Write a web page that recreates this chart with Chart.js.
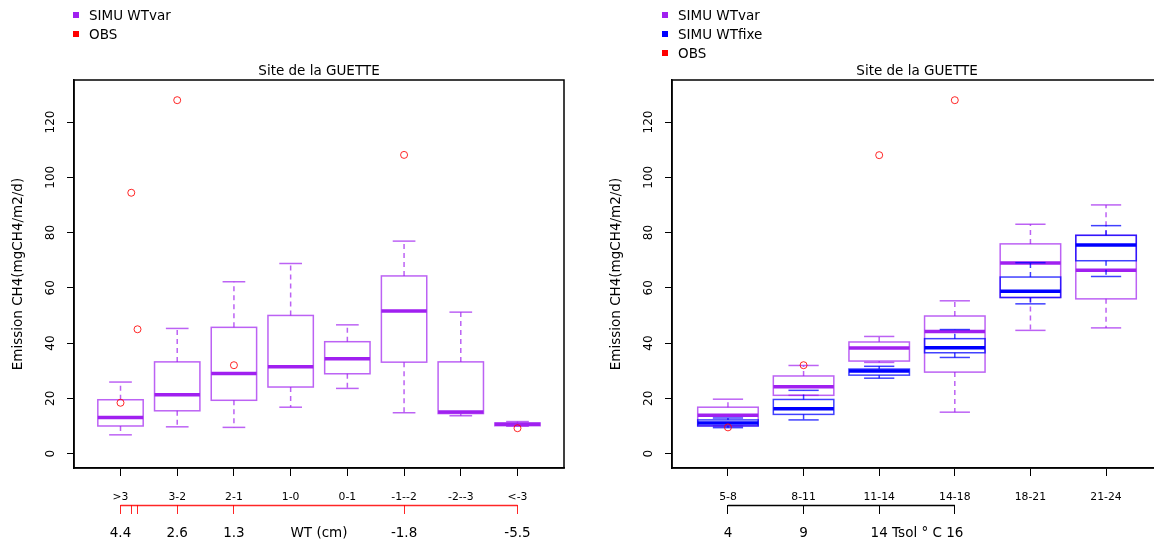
<!DOCTYPE html>
<html>
<head>
<meta charset="utf-8">
<script src="https://cdn.jsdelivr.net/npm/chart.js@4"></script>
<style>
html, body { margin: 0; padding: 0; overflow: hidden; background: #fff; width: 1154px; height: 542px; }
.panel { position: absolute; top: 0; width: 598px; height: 542px; }
.legend { position: absolute; top: 6px; font: 13.5px "DejaVu Sans"; color: #000; z-index: 2; }
.legend div { height: 19px; line-height: 19px; white-space: nowrap; }
.legend span { display: inline-block; width: 6px; height: 6px; margin-right: 10px; vertical-align: middle; position: relative; top: -1px; }
</style>
</head>
<body>
<div class="panel" style="left:0"><canvas id="left" width="598" height="542"></canvas></div>
<div class="panel" style="left:598px"><canvas id="right" width="598" height="542"></canvas></div>

<div class="legend" style="left:73px">
  <div><span style="background:#A020F0"></span>SIMU WTvar</div>
  <div><span style="background:#FF0000"></span>OBS</div>
</div>
<div class="legend" style="left:662px">
  <div><span style="background:#A020F0"></span>SIMU WTvar</div>
  <div><span style="background:#0000FF"></span>SIMU WTfixe</div>
  <div><span style="background:#FF0000"></span>OBS</div>
</div>

<script>
// left panel: water table classes
const wtClasses = ['>3', '3-2', '2-1', '1-0', '0-1', '-1--2', '-2--3', '<-3'];
const wtVarLow = [6.8, 9.7, 9.5, 16.8, 23.6, 14.8, 13.7, 9.9];
const wtVarQ1 = [10.0, 15.5, 19.3, 24.1, 28.9, 33.1, 14.5, 10.1];
const wtVarMed = [13.1, 21.3, 29.0, 31.4, 34.3, 51.6, 15.1, 10.6];
const wtVarQ3 = [19.5, 33.2, 45.7, 50.0, 40.5, 64.3, 33.2, 11.1];
const wtVarHigh = [25.9, 45.3, 62.2, 68.8, 46.6, 76.9, 51.2, 11.6];
const wtObsPos = [1, 1.19, 1.3, 2, 3, 6, 8];
const wtObsVal = [18.4, 94.4, 45.0, 127.9, 32.0, 108.1, 9.2];
const wtObsLabels = ['4.4', '', '', '2.6', '1.3', '-1.8', '-5.5'];

// right panel: soil temperature classes
const tsolClasses = ['5-8', '8-11', '11-14', '14-18', '18-21', '21-24'];
const tsVarLow = [10.0, 21.1, 33.0, 15.0, 44.6, 45.5];
const tsVarQ1 = [10.1, 21.1, 33.5, 29.5, 56.5, 56.0];
const tsVarMed = [13.9, 24.2, 38.2, 44.2, 69.0, 66.4];
const tsVarQ3 = [16.8, 28.1, 40.4, 49.8, 75.9, 79.0];
const tsVarHigh = [19.7, 31.9, 42.4, 55.3, 83.0, 90.0];
const tsFixLow = [9.4, 12.2, 27.3, 34.8, 54.2, 64.1];
const tsFixQ1 = [10.0, 14.2, 28.4, 36.5, 56.5, 69.8];
const tsFixMed = [11.1, 16.2, 29.9, 38.3, 58.8, 75.5];
const tsFixQ3 = [12.2, 19.6, 30.6, 41.6, 63.9, 79.0];
const tsFixHigh = [12.9, 22.9, 31.6, 44.9, 69.1, 82.5];
const tsObsPos = [1, 2, 3, 4];
const tsObsVal = [9.5, 32.0, 108.0, 127.9];
const tsObsLabels = ['4', '9', '14', '16'];

const yTicks = [0, 20, 40, 60, 80, 100, 120];

Chart.defaults.font.family = '"DejaVu Sans"';
Chart.defaults.color = '#000';

function boxPlugin(series) {
    return {
        id: 'boxes',
        beforeDatasetsDraw(chart) {
            const ctx = chart.ctx;
            const x = chart.scales.x;
            const y = chart.scales.y;
            const seg = (x1, y1, x2, y2) => {
                ctx.beginPath();
                ctx.moveTo(x1, y1);
                ctx.lineTo(x2, y2);
                ctx.stroke();
            };
            series.forEach(s => {
                s.med.forEach((m, i) => {
                    const p = i + 1;
                    const xl = x.getPixelForValue(p - 0.4);
                    const xr = x.getPixelForValue(p + 0.4);
                    const xc = x.getPixelForValue(p);
                    const sl = x.getPixelForValue(p - 0.2);
                    const sr = x.getPixelForValue(p + 0.2);
                    const yLo = y.getPixelForValue(s.low[i]);
                    const yQ1 = y.getPixelForValue(s.q1[i]);
                    const yMed = y.getPixelForValue(m);
                    const yQ3 = y.getPixelForValue(s.q3[i]);
                    const yHi = y.getPixelForValue(s.high[i]);
                    ctx.save();
                    ctx.strokeStyle = s.line;
                    ctx.lineWidth = 1.5;
                    ctx.setLineDash([5, 4]);
                    seg(xc, yQ3, xc, yHi);
                    seg(xc, yQ1, xc, yLo);
                    ctx.setLineDash([]);
                    seg(sl, yHi, sr, yHi);
                    seg(sl, yLo, sr, yLo);
                    ctx.strokeRect(xl, yQ3, xr - xl, yQ1 - yQ3);
                    ctx.strokeStyle = s.median;
                    ctx.lineWidth = 3.5;
                    seg(xl, yMed, xr, yMed);
                    ctx.restore();
                });
            });
        }
    };
}

function framePlugin(obsPos, axisColor) {
    return {
        id: 'frame',
        afterDraw(chart) {
            const ctx = chart.ctx;
            const a = chart.chartArea;
            const x2 = chart.scales.x2;
            ctx.save();
            ctx.strokeStyle = '#000';
            ctx.lineWidth = 1.5;
            ctx.strokeRect(a.left, a.top, a.right - a.left, a.bottom - a.top);
            // second axis line, only between its first and last tick
            ctx.strokeStyle = axisColor;
            ctx.lineWidth = 1.3;
            ctx.beginPath();
            ctx.moveTo(x2.getPixelForValue(Math.min(...obsPos)), x2.top + 0.5);
            ctx.lineTo(x2.getPixelForValue(Math.max(...obsPos)), x2.top + 0.5);
            ctx.stroke();
            ctx.restore();
        }
    };
}

function makeChart(id, classes, series, obsPos, obsVal, obsLabels, axisTitle, titlePos, axisColor) {
    const n = classes.length;
    const xMin = 0.5 - 0.04 * n;
    const xMax = n + 0.5 + 0.04 * n;
    new Chart(document.getElementById(id), {
        type: 'scatter',
        data: {
            datasets: [{
                label: 'OBS',
                data: obsPos.map((p, i) => ({ x: p, y: obsVal[i] })),
                pointStyle: 'circle',
                pointRadius: 3.5,
                pointBorderWidth: 1,
                pointBorderColor: 'rgba(255,0,0,0.85)',
                pointBackgroundColor: 'rgba(0,0,0,0)'
            }]
        },
        options: {
            responsive: false,
            animation: false,
            layout: { padding: { top: 63.8, left: 0, right: 34, bottom: 0 } },
            plugins: {
                legend: { display: false },
                tooltip: { enabled: false },
                title: {
                    display: true,
                    text: 'Site de la GUETTE',
                    fullSize: false,
                    padding: 0,
                    color: '#000',
                    font: { size: 13.5, weight: 'normal' }
                }
            },
            scales: {
                x: {
                    type: 'linear',
                    position: 'bottom',
                    weight: 0,
                    min: xMin,
                    max: xMax,
                    bounds: 'data',
                    afterBuildTicks: s => { s.ticks = classes.map((c, i) => ({ value: i + 1 })); },
                    afterFit: s => { s.height = 37; },
                    grid: { drawOnChartArea: false, tickLength: 8, color: '#000' },
                    border: { color: '#000', width: 1.5 },
                    ticks: {
                        autoSkip: false, maxRotation: 0, padding: 15, color: '#000',
                        font: { size: 10.8 },
                        callback: (v, i) => classes[i]
                    }
                },
                x2: {
                    type: 'linear',
                    position: 'bottom',
                    weight: 1,
                    min: xMin,
                    max: xMax,
                    bounds: 'data',
                    afterBuildTicks: s => {
                        s.ticks = obsPos.map(v => ({ value: v })).concat([{ value: titlePos }]);
                    },
                    afterFit: s => { s.height = 37; },
                    grid: {
                        drawOnChartArea: false, tickLength: 9,
                        color: c => c.index < obsPos.length ? axisColor : 'rgba(0,0,0,0)'
                    },
                    border: { display: false },
                    ticks: {
                        autoSkip: false, maxRotation: 0, padding: 11, color: '#000',
                        font: { size: 13.5 },
                        callback: (v, i) => i < obsLabels.length ? obsLabels[i] : axisTitle
                    }
                },
                y: {
                    type: 'linear',
                    min: -5.2,
                    max: 135.2,
                    bounds: 'data',
                    afterBuildTicks: s => { s.ticks = yTicks.map(v => ({ value: v })); },
                    afterFit: s => { s.width = 74; },
                    grid: { drawOnChartArea: false, tickLength: 7, color: '#000' },
                    border: { color: '#000', width: 1.5 },
                    ticks: {
                        minRotation: 90, maxRotation: 90, crossAlign: 'center', padding: 5,
                        color: '#000', font: { size: 12 }
                    },
                    title: {
                        display: true,
                        text: 'Emission CH4(mgCH4/m2/d)',
                        color: '#000',
                        font: { size: 13.5 },
                        padding: { top: 10, bottom: 0 }
                    }
                }
            }
        },
        plugins: [boxPlugin(series), framePlugin(obsPos, axisColor)]
    });
}

const purple = { line: 'rgba(160,32,240,0.7)', median: '#A020F0' };
const blue = { line: 'rgba(0,0,255,0.75)', median: '#0000FF' };

makeChart('left', wtClasses, [
    { ...purple, low: wtVarLow, q1: wtVarQ1, med: wtVarMed, q3: wtVarQ3, high: wtVarHigh }
], wtObsPos, wtObsVal, wtObsLabels, 'WT (cm)', 4.5, 'rgba(255,0,0,0.85)');

makeChart('right', tsolClasses, [
    { ...purple, low: tsVarLow, q1: tsVarQ1, med: tsVarMed, q3: tsVarQ3, high: tsVarHigh },
    { ...blue, low: tsFixLow, q1: tsFixQ1, med: tsFixMed, q3: tsFixQ3, high: tsFixHigh }
], tsObsPos, tsObsVal, tsObsLabels, 'Tsol ° C', 3.5, '#000');
</script>
</body>
</html>
